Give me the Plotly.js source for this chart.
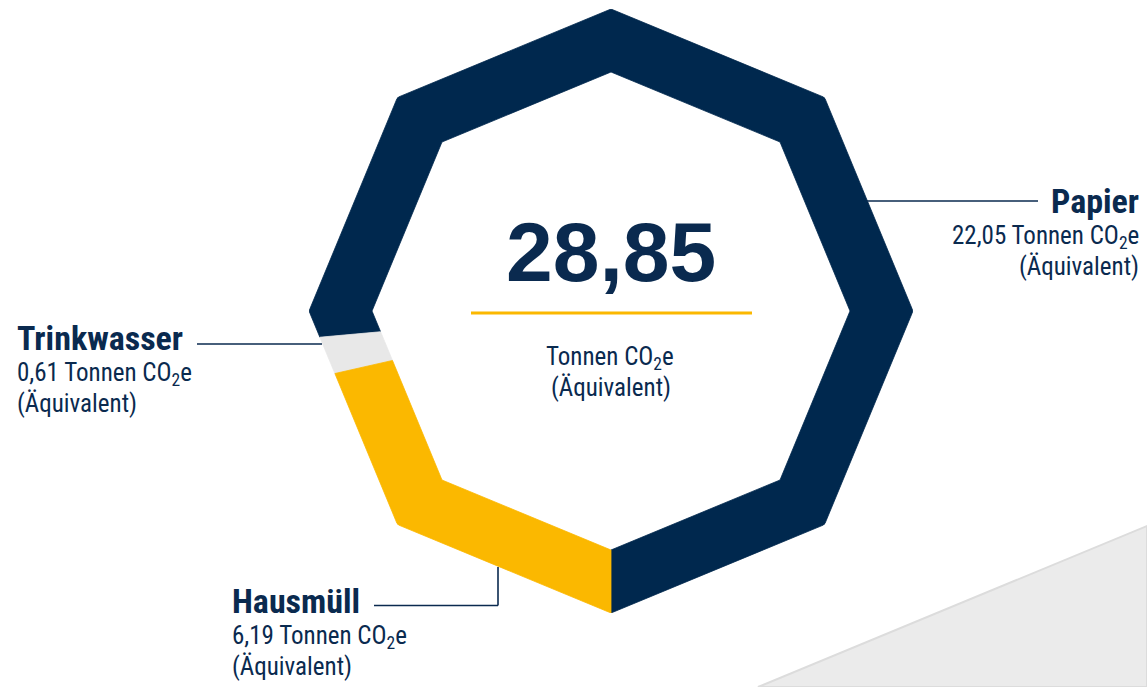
<!DOCTYPE html>
<html><head><meta charset="utf-8">
<script src="https://cdn.plot.ly/plotly-3.0.1.min.js"></script>
<style>html,body{margin:0;padding:0;background:#fff;} #chart{width:1147px;height:687px;}</style>
</head><body><div id="chart"></div>
<script>
// ---- data ----
const categories = ['Papier', 'Trinkwasser', 'Hausmüll'];
const values = [22.05, 0.61, 6.19];
const valueLabels = ['22,05', '0,61', '6,19'];
const totalLabel = '28,85';
const unitLabel = 'Tonnen CO<sub>2</sub>e';
const unitNote = '(Äquivalent)';
const colors = ['#00284e', '#e8e8e8', '#fbb800'];

// ---- geometry / style ----
const W = 1147, H = 687;
const CX = 611, CY = 311, R_OUT = 302, R_IN = 239;
const NAVY = '#0a2a4f';
const YELLOW = '#fbb800';
const REG = '"Liberation Sans Narrow", "Roboto Condensed", "DejaVu Sans Condensed", "Liberation Sans", sans-serif';
const BIG = '"Liberation Sans", Arial, sans-serif';

const total = values.reduce((a, b) => a + b, 0);

// radius of regular octagon (vertices every 45deg, starting at theta=0) at angle t
function rho(t, R) {
  const m = ((t % 45) + 45) % 45;
  return R * Math.cos(Math.PI / 8) / Math.cos((m - 22.5) * Math.PI / 180);
}
function segment(t0, t1) {
  const angs = [t0];
  for (let v = Math.ceil(t0 / 45) * 45; v < t1; v += 45) { if (v > t0) angs.push(v); }
  angs.push(t1);
  const th = [], r = [];
  angs.forEach(a => { th.push(a); r.push(rho(a, R_OUT)); });
  angs.slice().reverse().forEach(a => { th.push(a); r.push(rho(a, R_IN)); });
  th.push(angs[0]); r.push(rho(angs[0], R_OUT));
  return { th, r };
}

const traces = [];
let cum = 0;
values.forEach((v, i) => {
  const t0 = cum / total * 360;
  cum += v;
  const t1 = cum / total * 360;
  const s = segment(t0, t1);
  traces.push({
    type: 'scatterpolar', mode: 'lines', fill: 'toself',
    r: s.r, theta: s.th, name: categories[i],
    fillcolor: colors[i], line: { color: colors[i], width: 0.8 },
    hoverinfo: 'name'
  });
});

// ---- annotation helpers ----
const X = px => px / W;
const Y = py => 1 - py / H;
function ann(text, xpx, baseline, size, opts) {
  opts = opts || {};
  const off = opts.sub ? 0.31 : 0.3465;
  return {
    xref: 'paper', yref: 'paper', x: X(xpx), y: Y(baseline - off * size),
    xanchor: opts.anchor || 'left', yanchor: 'middle', showarrow: false,
    text: text, borderpad: 0,
    font: { family: opts.family || REG, size: size, color: NAVY, weight: opts.bold ? 700 : 400 }
  };
}
const annotations = [
  ann(totalLabel, 611, 281, 84, { anchor: 'center', bold: true, family: BIG }),
  ann(unitLabel, 610, 366, 25, { anchor: 'center', sub: true }),
  ann(unitNote, 611, 396, 25, { anchor: 'center' }),

  ann(categories[0], 1140, 213, 34, { anchor: 'right', bold: true }),
  ann(valueLabels[0] + ' ' + unitLabel, 1140, 245, 25, { anchor: 'right', sub: true }),
  ann(unitNote, 1140, 275, 25, { anchor: 'right' }),

  ann(categories[1], 16, 350, 34, { bold: true }),
  ann(valueLabels[1] + ' ' + unitLabel, 16, 382, 25, { sub: true }),
  ann(unitNote, 16, 412, 25, {}),

  ann(categories[2], 231, 613, 34, { bold: true }),
  ann(valueLabels[2] + ' ' + unitLabel, 231, 645, 25, { sub: true }),
  ann(unitNote, 231, 675, 25, {})
];

const lineStyle = { color: NAVY, width: 1.6 };
function seg(x0, y0, x1, y1) {
  return { type: 'line', xref: 'paper', yref: 'paper', x0: X(x0), y0: Y(y0), x1: X(x1), y1: Y(y1), line: lineStyle, layer: 'above' };
}
const shapes = [
  { type: 'path', xref: 'paper', yref: 'paper', layer: 'below',
    path: `M ${X(758)},${Y(687)} L ${X(1147)},${Y(526)} L ${X(1147)},${Y(687)} Z`,
    fillcolor: '#ebebeb', line: { color: '#dcdcdc', width: 2 } },
  { type: 'line', xref: 'paper', yref: 'paper', x0: X(471), x1: X(752), y0: Y(313), y1: Y(313),
    line: { color: YELLOW, width: 3 } },
  seg(867, 201, 1038, 201),
  seg(197, 344, 322, 344),
  seg(374, 605.5, 498, 605.5),
  seg(498, 605.5, 498, 567)
];

const layout = {
  width: W, height: H,
  margin: { l: 0, r: 0, t: 0, b: 0 },
  paper_bgcolor: '#ffffff', plot_bgcolor: '#ffffff',
  showlegend: false,
  polar: {
    domain: { x: [X(CX - R_OUT), X(CX + R_OUT)], y: [Y(CY + R_OUT), Y(CY - R_OUT)] },
    bgcolor: 'rgba(0,0,0,0)',
    radialaxis: { visible: false, range: [0, R_OUT] },
    angularaxis: { visible: false, rotation: 270, direction: 'counterclockwise' }
  },
  annotations: annotations,
  shapes: shapes
};

Plotly.newPlot('chart', traces, layout, { displayModeBar: false, staticPlot: true });
</script>
</body></html>
